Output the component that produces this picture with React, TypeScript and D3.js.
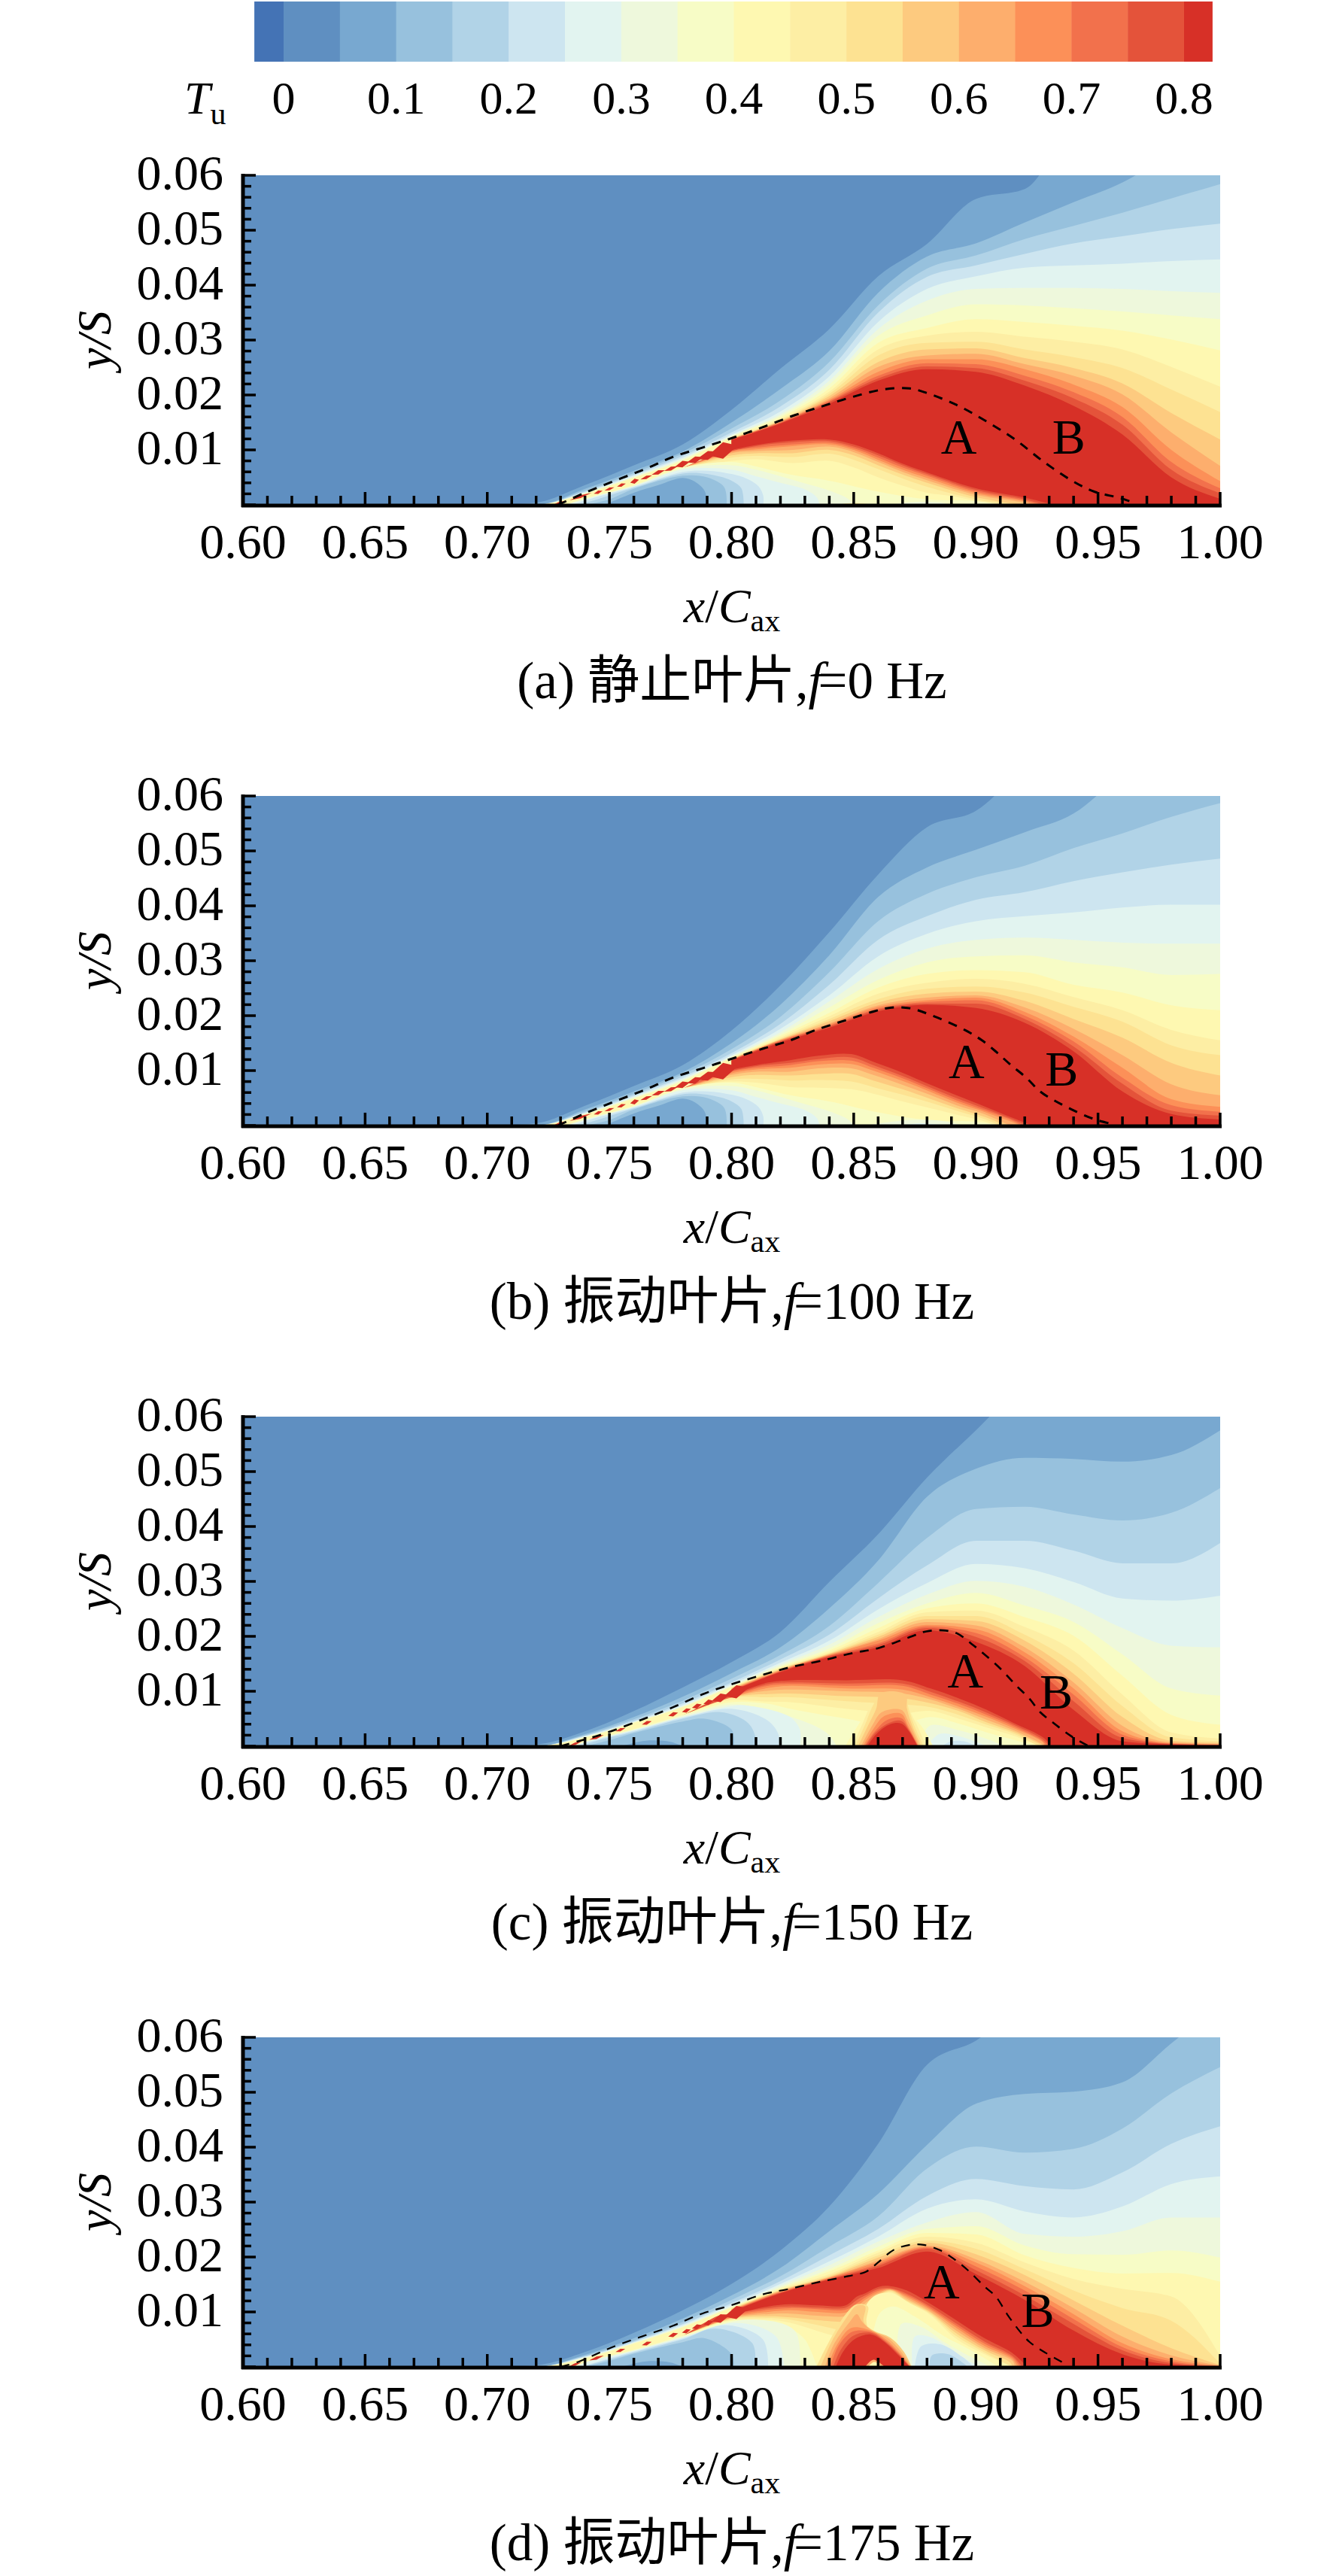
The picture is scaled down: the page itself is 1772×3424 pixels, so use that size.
// @ts-nocheck
import { area, curveCatmullRom, curveMonotoneX, format, line, range, scaleLinear } from "d3";

const WIDTH = 1772;
const HEIGHT = 3424;
const PANEL_STEP = 825;
const SERIF = "'Liberation Serif', 'Noto Sans CJK SC', serif";

// contour fill colours, one per band of 0.05
const bandColors = [
  "#4473b5", "#5f8fc1", "#78a8d0", "#97c1dd", "#b1d3e7", "#cde5f0", "#e2f4f0", "#eef8dc", "#f7fcc6",
  "#fef8b1", "#fdeea4", "#fde292", "#fdca7f", "#fdae6d", "#fc9058", "#f2714c", "#e4533a", "#d73027",
];
const barEdges = [-0.026, 0, 0.05, 0.1, 0.15, 0.2, 0.25, 0.3, 0.35, 0.4, 0.45, 0.5, 0.55, 0.6, 0.65, 0.7, 0.75, 0.8, 0.825];
const barTicks = [0, 0.1, 0.2, 0.3, 0.4, 0.5, 0.6, 0.7, 0.8];
const xLabels = [0.6, 0.65, 0.7, 0.75, 0.8, 0.85, 0.9, 0.95, 1];
const yLabels = [0.01, 0.02, 0.03, 0.04, 0.05, 0.06];

// x positions where the upper contour heights were read
const stations = [0.72, 0.74, 0.76, 0.78, 0.8, 0.82, 0.84, 0.86, 0.88, 0.9, 0.92, 0.94, 0.96, 0.98, 1];
const _ = null;

// heights are y/S x 1000; rows go from band 2 up to band 17
const levelsA = [
  [0.4, 3.6, 7.2, 11, 17.3, 24.8, 32, 41.6, 47.5, 55.7, 57.5, 68, 70, 70, 70],
  [0, 2.9, 6.2, 9.7, 15, 21.1, 28, 38.6, 45.2, 47.6, 51.4, 55.1, 58.7, 64, 70],
  [0, 2.6, 5.8, 9.3, 13.9, 19, 26, 36.3, 43, 45.4, 48.4, 50.8, 53.2, 55.8, 58.4],
  [0, 2.4, 5.5, 8.9, 13.2, 17.9, 24.6, 35, 41.5, 43.6, 45.7, 47.6, 48.9, 50.2, 51.2],
  [0, 2.3, 5.3, 8.6, 12.8, 17, 23.4, 33.3, 39.3, 41.6, 43.2, 43.6, 43.9, 44.4, 44.7],
  [0, 2.2, 5.15, 8.4, 12.6, 16.5, 22.6, 32, 37.2, 39.3, 39.5, 39.5, 39.3, 38.9, 38.6],
  [0, 2.1, 5, 8.2, 12.45, 16.2, 21.9, 30.8, 34.5, 36.5, 36.3, 35.8, 35.2, 34.5, 33.8],
  [0, 2, 4.9, 8, 12.3, 15.9, 21.2, 29.5, 32.2, 33.8, 33.3, 32.6, 31.7, 30.1, 28.1],
  [_, _, _, _, 12.2, 15.6, 20.6, 28.3, 30.8, 31.5, 30.6, 29.7, 28.3, 25.1, 21.5],
  [_, _, _, _, 12.15, 15.4, 20.2, 27.2, 29.5, 29.7, 28.3, 26.9, 24.9, 21, 16.9],
  [_, _, _, _, 12.1, 15.3, 19.8, 26, 28.3, 28.5, 26.7, 24.9, 22.1, 16.7, 11.9],
  [_, _, _, _, 12.05, 15.2, 19.4, 25.1, 27.2, 27.5, 25.6, 23.5, 20.1, 13.2, 7.1],
  [_, _, _, _, 12, 15.1, 19.1, 24.2, 26.5, 26.5, 24.7, 21.9, 17.8, 10, 4.3],
  [_, _, _, _, 11.95, 15, 18.9, 23.5, 25.8, 25.6, 23.5, 20.5, 16, 7.8, 3],
  [_, _, _, _, 11.9, 14.9, 18.7, 23, 25.2, 24.9, 22.6, 19.4, 14.6, 6.4, 2.1],
  [_, _, _, _, 11.8, 14.8, 18.4, 22.6, 24.7, 24.2, 21.7, 18, 12.8, 5, 1.1],
];
const levelsB = [
  [0.4, 3.6, 7.2, 11, 17.3, 25.5, 35.2, 45.7, 54.3, 57.3, 65, 70, 70, 70, 70],
  [0, 2.9, 6.2, 9.7, 15, 22, 31, 41.6, 47, 50.2, 53.4, 56.8, 64, 70, 70],
  [0, 2.6, 5.8, 9.3, 13.9, 19.8, 27.9, 37.2, 42.2, 45.2, 47.3, 50.5, 53.2, 56.2, 58.7],
  [0, 2.4, 5.5, 8.9, 13.2, 18.5, 25.6, 33.8, 38.1, 41.1, 42.5, 44.5, 46.1, 47.5, 48.6],
  [0, 2.3, 5.3, 8.6, 12.8, 17.6, 23.7, 30.8, 34.9, 37.2, 38.1, 38.8, 39.7, 40.2, 40.2],
  [0, 2.2, 5.15, 8.4, 12.6, 17, 22.6, 28.5, 32.2, 33.8, 34.2, 33.8, 33.3, 33.1, 33.1],
  [0, 2.1, 5, 8.2, 12.45, 16.6, 21.5, 26.5, 29.7, 30.8, 31, 29.7, 28.8, 27.4, 27.6],
  [0, 2, 4.9, 8, 12.3, 16.3, 20.5, 25.1, 27.6, 28.3, 27.9, 25.6, 24.2, 21.9, 21],
  [_, _, _, _, 12.2, 16, 19.9, 24, 26, 26.7, 25.8, 23.4, 21, 17.4, 15.5],
  [_, _, _, _, 12.15, 15.8, 19.4, 23, 24.9, 25.3, 24.2, 21.6, 18.9, 14.6, 12.8],
  [_, _, _, _, 12.1, 15.7, 19, 22.4, 24, 24.4, 22.7, 19.4, 16, 11.4, 9.1],
  [_, _, _, _, 12.05, 15.6, 18.6, 21.9, 23.3, 23.7, 21.5, 17.6, 12.8, 7.5, 5.5],
  [_, _, _, _, 12, 15.5, 18.4, 21.6, 22.8, 23.3, 20.7, 16.2, 10.5, 4.8, 3.4],
  [_, _, _, _, 11.95, 15.4, 18.2, 21.3, 22.5, 22.8, 20, 15.3, 8.7, 3.7, 2.5],
  [_, _, _, _, 11.9, 15.3, 18, 21.1, 22.2, 22.2, 19.4, 14.4, 7.6, 2.7, 1.8],
  [_, _, _, _, 11.8, 15.1, 17.8, 20.8, 22, 21.4, 18.7, 13.5, 6.2, 2.1, 1.1],
];
const levelsC = [
  [0.3, 2.7, 6.4, 10.7, 15.3, 20.8, 29.9, 38.6, 48.9, 57.5, 66, 70, 70, 70, 70],
  [0, 2.2, 5.3, 9, 13.3, 18, 25.1, 33.8, 45.4, 50.5, 52.5, 52.3, 51.8, 53, 57.5],
  [0, 2, 4.9, 8.3, 12.3, 16.6, 21.9, 29.7, 37.9, 43.2, 43.6, 42.2, 41.1, 42.5, 47],
  [0, 1.9, 4.6, 7.8, 11.6, 15.8, 20.3, 26.9, 32.9, 37.4, 37.4, 35.6, 33.3, 33.3, 37],
  [0, 1.8, 4.5, 7.5, 11.3, 15.2, 19.2, 24.9, 29.7, 33.2, 32.4, 29.9, 26.9, 26.5, 27.4],
  [0, 1.7, 4.4, 7.3, 11.1, 14.9, 18.5, 23.5, 27.6, 30.1, 29, 25.8, 21.5, 18.3, 18],
  [0, 1.6, 4.3, 7.2, 10.9, 14.6, 17.8, 22.4, 26, 27.9, 25.6, 22.6, 16.7, 10.5, 9.2],
  [0, 1.5, 4.2, 7.1, 10.8, 14.4, 17.4, 21.5, 25.1, 26, 23.5, 20.1, 12.8, 5.7, 3.9],
  [_, _, _, _, 10.7, 14.2, 17.1, 20.8, 24.4, 24.7, 21.7, 17.4, 9.4, 2.5, 1.4],
  [_, _, _, _, 10.6, 14.1, 16.9, 20.3, 23.7, 23.7, 20.3, 15.1, 7.3, 1.6, 0.9],
  [_, _, _, _, 10.5, 14, 16.8, 19.9, 23.1, 22.8, 19.2, 13.2, 5.3, 1, 0.6],
  [_, _, _, _, 10.4, 13.9, 16.7, 19.5, 22.6, 22, 18, 11.6, 3.7, 0.7, 0.45],
  [_, _, _, _, 10.3, 13.8, 16.6, 19.2, 22.1, 21.3, 17.1, 10.5, 2.7, 0.55, 0.35],
  [_, _, _, _, 10.2, 13.7, 16.5, 18.7, 21.8, 20.6, 16.2, 9.4, 2.1, 0.45, 0.25],
  [_, _, _, _, 10.1, 13.6, 16.4, 18.4, 21.5, 19.9, 15.5, 8.2, 1.5, 0.4, 0.2],
  [_, _, _, _, 10, 13.5, 16.2, 18, 21.1, 19, 14.6, 6.6, 0.9, 0.3, 0.1],
];
const levelsD = [
  [0.3, 2.7, 6.2, 10.3, 15.1, 21.2, 29.2, 40.6, 55, 59.4, 66, 70, 70, 70, 70],
  [0, 2.2, 5.2, 8.8, 13, 18, 24.7, 31.5, 40.4, 47.9, 49.7, 50.1, 51.8, 58.9, 66],
  [0, 2, 4.8, 8.2, 12.2, 16.5, 21.9, 27.4, 36.1, 40.1, 39, 39.7, 43.4, 49.8, 54.6],
  [0, 1.9, 4.6, 7.8, 11.6, 15.6, 20.3, 25.1, 31.1, 34.2, 32.9, 32.3, 35.4, 40.6, 43.8],
  [0, 1.8, 4.5, 7.6, 11.3, 15.1, 19.2, 23.7, 28.8, 30.5, 28.3, 27.2, 29.2, 33.3, 34.7],
  [0, 1.7, 4.4, 7.4, 11.1, 14.8, 18.5, 22.8, 26.3, 28.2, 24.2, 23.7, 24.7, 27.2, 27.2],
  [0, 1.6, 4.3, 7.3, 10.9, 14.5, 17.8, 21.9, 25.1, 25.6, 22.1, 20.5, 20.4, 21.2, 19.9],
  [0, 1.5, 4.2, 7.2, 10.8, 14.3, 17.4, 21.2, 24.4, 24.1, 20.3, 18, 17, 17.1, 15.5],
  [_, _, _, _, 10.7, 14.1, 16.9, 20.8, 23.7, 22.6, 19, 16, 14.2, 12.8, 2],
  [_, _, _, _, 10.6, 14, 16.6, 20.3, 23, 21.5, 17.8, 13.9, 10.7, 8.4, 0.6],
  [_, _, _, _, 10.5, 13.9, 16.4, 19.9, 22.6, 20.5, 16.7, 12.1, 7.5, 3.4, 0.35],
  [_, _, _, _, 10.4, 13.8, 16.3, 19.4, 22.1, 19.6, 15.5, 10.7, 5.5, 2.1, 0.25],
  [_, _, _, _, 10.3, 13.7, 16.2, 19.1, 21.9, 19, 14.7, 9.6, 4.3, 1.4, 0.2],
  [_, _, _, _, 10.2, 13.6, 16.1, 18.7, 21.7, 18.3, 13.9, 8.7, 3.6, 1, 0.15],
  [_, _, _, _, 10.1, 13.5, 16, 18.4, 21.5, 17.6, 13, 7.8, 3, 0.7, 0.1],
  [_, _, _, _, 10, 13.4, 15.9, 18, 21, 16.9, 12.2, 6.6, 2.3, 0.4, 0.05],
];

// regions under the wake ridge: [band, [[x, height], ...]], painted in order
const pocketLeftAB = [
  [8, [[0.732, 0], [0.74, 1.2], [0.76, 3.6], [0.78, 6.8], [0.8, 7.8], [0.81, 7], [0.824, 5.5], [0.84, 4.4], [0.86, 2.4], [0.88, 1], [0.9, 0.7], [0.91, 0]]],
  [7, [[0.732, 0], [0.74, 1.1], [0.76, 3.5], [0.78, 6.6], [0.8, 7.2], [0.81, 6.4], [0.82, 5.2], [0.83, 3.9], [0.84, 2.6], [0.848, 1], [0.85, 0]]],
  [6, [[0.733, 0], [0.74, 1], [0.76, 3.4], [0.78, 6.4], [0.8, 6.4], [0.81, 5.2], [0.82, 4], [0.83, 2.8], [0.835, 1.3], [0.836, 0]]],
  [5, [[0.735, 0], [0.74, 0.8], [0.76, 3.3], [0.78, 6], [0.79, 6.2], [0.8, 5.6], [0.806, 4.8], [0.811, 3.4], [0.813, 1.6], [0.813, 0]]],
  [4, [[0.737, 0], [0.745, 1], [0.76, 3.1], [0.78, 5.7], [0.79, 5.6], [0.8, 4.4], [0.804, 3], [0.805, 0]]],
  [3, [[0.74, 0], [0.75, 1], [0.76, 2.9], [0.78, 5.3], [0.79, 5], [0.797, 3.2], [0.798, 0]]],
  [2, [[0.748, 0], [0.76, 2.2], [0.77, 3.6], [0.78, 4.9], [0.785, 4.2], [0.789, 2.5], [0.79, 0]]],
];
const cavityA = [
  [16, [[0.78, 6.7], [0.795, 9.4], [0.81, 10.9], [0.825, 11.7], [0.84, 11.9], [0.85, 11], [0.86, 9.4], [0.87, 7.5], [0.88, 5.9], [0.9, 3], [0.92, 1.3], [0.932, 0]]],
  [15, [[0.78, 6.7], [0.795, 9.2], [0.81, 10.7], [0.825, 11.4], [0.84, 11.6], [0.85, 10.6], [0.86, 9], [0.87, 7.2], [0.88, 5.6], [0.9, 2.7], [0.92, 1], [0.928, 0]]],
  [14, [[0.78, 6.7], [0.8, 9.8], [0.81, 10.4], [0.825, 11], [0.84, 11.3], [0.85, 10.3], [0.86, 8.6], [0.87, 6.8], [0.88, 5.3], [0.9, 2.4], [0.92, 0.8], [0.926, 0]]],
  [13, [[0.78, 6.7], [0.8, 9.6], [0.81, 10.1], [0.825, 10.7], [0.84, 11], [0.85, 10], [0.86, 8.2], [0.87, 6.4], [0.88, 4.9], [0.9, 2.1], [0.92, 0.6], [0.923, 0]]],
  [12, [[0.78, 6.7], [0.8, 9.4], [0.81, 9.8], [0.825, 10], [0.84, 10.6], [0.85, 9.6], [0.86, 7.8], [0.87, 6], [0.88, 4.5], [0.9, 1.8], [0.92, 0.3], [0.921, 0]]],
  [11, [[0.78, 6.7], [0.8, 9], [0.81, 9.4], [0.825, 9.4], [0.84, 10], [0.85, 9], [0.86, 7.2], [0.87, 5.5], [0.88, 4], [0.9, 1.4], [0.915, 0.2], [0.918, 0]]],
  [10, [[0.78, 6.7], [0.8, 8.6], [0.81, 8.9], [0.825, 8.7], [0.84, 9.3], [0.85, 8.2], [0.86, 6.5], [0.87, 4.8], [0.88, 3.3], [0.9, 1], [0.91, 0.3], [0.915, 0]]],
  [9, [[0.78, 6.7], [0.79, 7.4], [0.8, 8], [0.81, 8.3], [0.825, 7.6], [0.84, 8], [0.85, 6.8], [0.86, 5], [0.87, 3.5], [0.88, 2.2], [0.89, 1.6], [0.9, 0.7], [0.91, 0]]],
  ...pocketLeftAB,
  [10, [[0.843, 0], [0.85, 0.35], [0.858, 0]]],
  [7, [[0.865, 0], [0.875, 0.5], [0.885, 0.45], [0.89, 0]]],
];
const cavityB = [
  [16, [[0.78, 6.7], [0.795, 9.6], [0.81, 11], [0.824, 11.9], [0.8355, 12.7], [0.849, 13], [0.858, 11.6], [0.87, 9.6], [0.881, 7.5], [0.892, 5.5], [0.904, 3.4], [0.915, 1.4], [0.923, 0]]],
  [15, [[0.78, 6.7], [0.795, 9.4], [0.81, 10.8], [0.824, 11.4], [0.8355, 12.1], [0.849, 12.4], [0.858, 11], [0.87, 9], [0.881, 7], [0.892, 5], [0.904, 3], [0.915, 1.1], [0.921, 0]]],
  [14, [[0.78, 6.7], [0.8, 9.8], [0.81, 10.5], [0.824, 11], [0.8355, 11.7], [0.849, 11.8], [0.858, 10.5], [0.87, 8.6], [0.881, 6.6], [0.892, 4.6], [0.904, 2.7], [0.915, 0.9], [0.919, 0]]],
  [13, [[0.78, 6.7], [0.8, 9.5], [0.81, 10.2], [0.824, 10.5], [0.8355, 11.1], [0.849, 11.2], [0.858, 10], [0.87, 8.1], [0.881, 6.2], [0.892, 4.2], [0.904, 2.4], [0.915, 0.6], [0.918, 0]]],
  [12, [[0.78, 6.7], [0.8, 9.2], [0.81, 9.8], [0.824, 9.8], [0.8355, 10.4], [0.849, 10.4], [0.858, 9.2], [0.87, 7.4], [0.881, 5.6], [0.892, 3.7], [0.904, 2], [0.914, 0]]],
  [11, [[0.78, 6.7], [0.8, 8.8], [0.81, 9.2], [0.824, 9.1], [0.8355, 9.4], [0.849, 9.4], [0.858, 8.2], [0.87, 6.6], [0.881, 4.9], [0.892, 3.2], [0.904, 1.5], [0.912, 0]]],
  [10, [[0.78, 6.7], [0.8, 8.4], [0.81, 8.5], [0.824, 8.2], [0.8355, 8.3], [0.849, 8], [0.858, 7], [0.87, 5.6], [0.881, 4.2], [0.892, 2.7], [0.904, 1.1], [0.91, 0]]],
  [9, [[0.78, 6.7], [0.79, 7.6], [0.8, 8], [0.81, 7.8], [0.824, 7], [0.8355, 6.9], [0.849, 6.6], [0.858, 5.8], [0.87, 4.4], [0.881, 3.2], [0.892, 2], [0.904, 0.7], [0.908, 0]]],
  ...pocketLeftAB,
  [7, [[0.855, 0], [0.87, 0.9], [0.885, 0.9], [0.895, 0]]],
  [6, [[0.868, 0], [0.878, 0.4], [0.888, 0]]],
];
const cavityC = [
  [16, [[0.78, 5.6], [0.795, 8.8], [0.804, 10], [0.815, 11.6], [0.824, 12], [0.847, 12], [0.87, 12], [0.8815, 10.5], [0.893, 8.7], [0.9045, 6.6], [0.916, 4.1], [0.9275, 1.6], [0.931, 0]]],
  [15, [[0.78, 5.6], [0.804, 9.8], [0.815, 11.3], [0.824, 11.6], [0.847, 11.4], [0.87, 11.4], [0.8815, 9.9], [0.893, 8.1], [0.9045, 6.1], [0.916, 3.8], [0.9275, 1.2], [0.93, 0]]],
  [14, [[0.78, 5.6], [0.804, 9.6], [0.815, 11], [0.824, 11.3], [0.847, 11], [0.87, 11], [0.8815, 9.4], [0.893, 7.7], [0.9045, 5.7], [0.916, 3.5], [0.9275, 0.9], [0.929, 0]]],
  [13, [[0.78, 5.6], [0.804, 9.4], [0.815, 10.6], [0.824, 11], [0.847, 10.5], [0.87, 10.3], [0.8815, 8.9], [0.893, 7.2], [0.9045, 5.3], [0.916, 3.2], [0.9275, 0.7], [0.928, 0]]],
  [12, [[0.78, 5.6], [0.803, 9.2], [0.815, 10.1], [0.824, 10.3], [0.847, 10], [0.87, 9.6], [0.8815, 8.5], [0.893, 6.8], [0.9045, 4.8], [0.916, 2.8], [0.9265, 0.5], [0.928, 0]]],
  [11, [[0.78, 5.6], [0.802, 9], [0.815, 9.5], [0.824, 9.6], [0.847, 9.1], [0.87, 8.7], [0.8815, 7.8], [0.893, 6.4], [0.9045, 4.3], [0.916, 2.5], [0.926, 0.4], [0.928, 0]]],
  [10, [[0.78, 5.6], [0.8, 8.8], [0.815, 8.9], [0.824, 8.9], [0.847, 8.2], [0.87, 7.6], [0.8815, 7.1], [0.893, 5.7], [0.9045, 3.9], [0.916, 2.2], [0.925, 0.2], [0.927, 0]]],
  [9, [[0.78, 5.6], [0.795, 8], [0.8, 8.4], [0.815, 8.1], [0.824, 8], [0.847, 6.8], [0.87, 6], [0.8815, 6.4], [0.893, 5], [0.9045, 3.4], [0.916, 1.8], [0.926, 0]]],
  [8, [[0.735, 0], [0.74, 0.9], [0.76, 3.1], [0.78, 5.7], [0.8, 8], [0.815, 7.7], [0.824, 6.8], [0.84, 5.5], [0.847, 5], [0.86, 4], [0.87, 4], [0.8815, 5.3], [0.893, 4.1], [0.9045, 2.5], [0.916, 1.1], [0.925, 0]]],
  [7, [[0.735, 0], [0.74, 0.8], [0.76, 3], [0.78, 5.5], [0.8, 7.6], [0.81, 7.1], [0.82, 6], [0.824, 5.4], [0.835, 3.5], [0.84, 2], [0.843, 0]]],
  [7, [[0.877, 0], [0.881, 3.7], [0.893, 2.9], [0.9045, 1.3], [0.912, 0]]],
  [6, [[0.736, 0], [0.74, 0.7], [0.76, 2.9], [0.78, 5.3], [0.8, 7.3], [0.8063, 7.4], [0.8236, 5.4], [0.828, 3], [0.828, 0]]],
  [6, [[0.88, 0], [0.885, 2.2], [0.893, 1.8], [0.9, 0.8], [0.905, 0]]],
  [5, [[0.737, 0], [0.74, 0.6], [0.76, 2.8], [0.78, 5.2], [0.8, 6.8], [0.815, 4.6], [0.8193, 2], [0.8193, 0]]],
  [5, [[0.886, 0], [0.89, 0.9], [0.896, 0.8], [0.9, 0]]],
  [4, [[0.738, 0], [0.745, 1], [0.76, 2.6], [0.78, 5], [0.7955, 6.2], [0.8063, 4.4], [0.8096, 2], [0.8096, 0]]],
  [3, [[0.74, 0], [0.75, 1.1], [0.76, 2.4], [0.78, 4.5], [0.789, 5], [0.8, 3], [0.801, 0]]],
  [2, [[0.755, 0], [0.765, 1], [0.775, 0.8], [0.78, 0]]],
  // plume standing on the blade surface
  [9, [[0.8465, 0], [0.8515, 3.6], [0.856, 6.4], [0.8604, 6.7], [0.8718, 6.4], [0.875, 5], [0.8785, 3.2], [0.8825, 0]]],
  [10, [[0.8495, 0], [0.8535, 4], [0.857, 7.2], [0.8604, 7.9], [0.8718, 7.6], [0.8723, 7], [0.8757, 4], [0.8797, 0]]],
  [11, [[0.8507, 0], [0.8547, 4], [0.8581, 7.6], [0.8604, 8.9], [0.8718, 8.6], [0.8722, 7.4], [0.8746, 4], [0.8786, 0]]],
  [12, [[0.8518, 0], [0.8558, 3.7], [0.8592, 6.8], [0.8609, 9.6], [0.8712, 9.4], [0.8718, 6.8], [0.874, 3.7], [0.8777, 0]]],
  [13, [[0.853, 0], [0.8575, 3.7], [0.8615, 6.2], [0.8695, 6.6], [0.8723, 4.6], [0.8769, 0]]],
  [14, [[0.8538, 0], [0.8581, 3.2], [0.8626, 5.5], [0.8695, 5.9], [0.8723, 3.7], [0.8766, 0]]],
  [15, [[0.8544, 0], [0.8587, 2.7], [0.8638, 4.8], [0.8695, 5.1], [0.8727, 3], [0.8763, 0]]],
  [16, [[0.8549, 0], [0.859, 2.5], [0.8644, 4.2], [0.8695, 4.6], [0.8729, 2.7], [0.8763, 0]]],
  [17, [[0.8556, 0], [0.8595, 2.3], [0.865, 4], [0.8695, 4.1], [0.8729, 2.5], [0.876, 0]]],
];
const cavityD = [
  [16, [[0.78, 5.6], [0.795, 9.4], [0.8, 9.6], [0.815, 11], [0.824, 11.4], [0.8353, 11.2], [0.8467, 11.2], [0.8513, 12.8], [0.8547, 13.4], [0.8604, 14.6], [0.865, 14.7], [0.8718, 13.9], [0.8809, 11.6], [0.8923, 8.4], [0.9036, 5.2], [0.915, 2.5], [0.921, 0]]],
  [15, [[0.78, 5.6], [0.8, 9.4], [0.815, 10.7], [0.824, 11], [0.8353, 10.8], [0.8467, 10.8], [0.8513, 12.2], [0.8547, 13], [0.8604, 14.2], [0.865, 14.3], [0.8718, 13.3], [0.8809, 11.1], [0.8923, 7.8], [0.9036, 4.6], [0.915, 2], [0.919, 0]]],
  [14, [[0.78, 5.6], [0.8, 9.2], [0.815, 10.4], [0.824, 10.7], [0.8353, 10.5], [0.8467, 10.4], [0.8513, 11.6], [0.8547, 12.6], [0.8604, 13.9], [0.865, 14.2], [0.8718, 13], [0.8809, 10.8], [0.8923, 7.4], [0.9036, 4.2], [0.915, 1.7], [0.918, 0]]],
  [13, [[0.78, 5.6], [0.8, 9], [0.815, 10], [0.824, 10.3], [0.8353, 10], [0.8467, 9.9], [0.8513, 11], [0.8547, 12.2], [0.8604, 13.6], [0.865, 14.1], [0.8718, 12.7], [0.8809, 10.5], [0.8923, 7], [0.9036, 3.8], [0.915, 1.4], [0.917, 0]]],
  [12, [[0.78, 5.6], [0.8, 8.9], [0.815, 9.6], [0.824, 9.7], [0.8353, 9.3], [0.8467, 9.2], [0.8513, 10], [0.8547, 11.6], [0.8604, 13.3], [0.865, 14], [0.8718, 12.4], [0.8809, 10.2], [0.8923, 6.5], [0.9036, 3.4], [0.915, 1.1], [0.916, 0]]],
  [11, [[0.78, 5.6], [0.8, 8.8], [0.815, 9.2], [0.824, 9], [0.8353, 8.5], [0.8467, 8.2], [0.8513, 8.5], [0.8547, 10.8], [0.8604, 13], [0.865, 13.9], [0.8718, 12.1], [0.8809, 10], [0.8923, 6], [0.9036, 3], [0.914, 0.8], [0.915, 0]]],
  [10, [[0.78, 5.6], [0.8, 8.7], [0.815, 8.9], [0.824, 8.6], [0.8353, 7.6], [0.8467, 6.4], [0.8513, 5.8], [0.8547, 9.8], [0.8604, 12.6], [0.865, 13.7], [0.8718, 11.8], [0.8809, 9.8], [0.8923, 5.5], [0.9036, 2.6], [0.913, 0.4], [0.914, 0]]],
  [9, [[0.78, 5.6], [0.795, 8], [0.8, 8.5], [0.815, 8.6], [0.824, 8], [0.8353, 6.5], [0.845, 5.2], [0.853, 4], [0.8535, 9.6], [0.8581, 12.8], [0.865, 13.5], [0.8729, 11.6], [0.8809, 9.6], [0.8923, 5], [0.9036, 2.3], [0.915, 0]]],
  [8, [[0.735, 0], [0.74, 0.9], [0.76, 3.1], [0.78, 5.7], [0.8, 8.4], [0.815, 8.3], [0.824, 7], [0.83, 5], [0.835, 0]]],
  [8, [[0.856, 0], [0.8604, 9.6], [0.8661, 11], [0.8752, 9.1], [0.8866, 5.7], [0.898, 3], [0.9093, 0]]],
  [7, [[0.736, 0], [0.74, 0.8], [0.76, 3], [0.78, 5.5], [0.8074, 8.6], [0.8258, 6.6], [0.828, 0]]],
  [7, [[0.868, 0], [0.8695, 7.8], [0.8775, 7.3], [0.8877, 4.3], [0.898, 1.8], [0.9059, 0]]],
  [6, [[0.737, 0], [0.74, 0.7], [0.76, 2.9], [0.78, 5.3], [0.802, 8], [0.8182, 5.5], [0.8215, 0]]],
  [6, [[0.874, 0], [0.875, 5.5], [0.882, 5.3], [0.8911, 2.7], [0.9014, 0]]],
  [5, [[0.738, 0], [0.76, 2.8], [0.78, 5.2], [0.7977, 7.6], [0.8128, 5], [0.815, 0]]],
  [5, [[0.875, 0], [0.8775, 3.7], [0.8854, 4.1], [0.8945, 1.8], [0.8991, 0]]],
  [4, [[0.739, 0], [0.76, 2.6], [0.78, 5], [0.7934, 7], [0.8085, 4.3], [0.8096, 0]]],
  [4, [[0.8809, 0], [0.882, 2.1], [0.8888, 2.3], [0.8968, 0]]],
  [3, [[0.74, 0], [0.75, 1.1], [0.76, 2.4], [0.78, 4.5], [0.789, 5.2], [0.8, 2.3], [0.801, 0]]],
  [2, [[0.755, 0], [0.765, 1], [0.775, 0.8], [0.78, 0]]],
  // plume and vortex on the blade surface
  [11, [[0.8347, 0], [0.8399, 4.6], [0.8467, 9.6], [0.8513, 11.4], [0.8558, 11], [0.8552, 8.2], [0.8581, 5], [0.8661, 3.2], [0.874, 0]]],
  [12, [[0.8364, 0], [0.841, 4.6], [0.8473, 9.1], [0.8513, 11.2], [0.8547, 11], [0.8541, 8.2], [0.8581, 6.6], [0.865, 5.3], [0.8706, 2.7], [0.8737, 0]]],
  [13, [[0.8382, 0], [0.8421, 4.3], [0.8484, 8.2], [0.8513, 9.6], [0.8535, 8.2], [0.8581, 6.4], [0.8638, 5.3], [0.8695, 2.7], [0.8735, 0]]],
  [14, [[0.8393, 0], [0.8433, 4.1], [0.849, 7.1], [0.857, 6.6], [0.8632, 5], [0.8689, 2.5], [0.8732, 0]]],
  [15, [[0.8404, 0], [0.8439, 3.9], [0.8495, 6.4], [0.857, 6.4], [0.8629, 4.8], [0.8686, 2.4], [0.8731, 0]]],
  [16, [[0.8416, 0], [0.8448, 3.2], [0.8499, 5.7], [0.857, 6.2], [0.8626, 4.7], [0.8684, 2.3], [0.873, 0]]],
  [17, [[0.8427, 0], [0.8456, 2.7], [0.8503, 5], [0.857, 5.9], [0.8624, 4.6], [0.8681, 2.2], [0.8729, 0]]],
  [13, [[0.8547, 0], [0.8581, 1.3], [0.8626, 0]]],
  [9, [[0.8558, 0], [0.8584, 0.9], [0.8615, 0]]],
];

// red spots along the thin transition streak: x, height, half length, half thickness
const spotsAB = [
  [0.7294, 0.35, 0.0025, 0.2], [0.7382, 1.5, 0.0045, 0.25], [0.7454, 2.3, 0.0018, 0.3], [0.75, 2.9, 0.002, 0.25],
  [0.7549, 3.6, 0.0018, 0.3], [0.7603, 4.3, 0.0018, 0.45], [0.7651, 5, 0.0024, 0.3], [0.77, 5.9, 0.0027, 0.4],
  [0.7752, 6.6, 0.0028, 0.35], [0.7799, 7.4, 0.003, 0.6], [0.7851, 8.2, 0.0034, 0.6], [0.7903, 9, 0.0045, 0.8], [0.7965, 9.9, 0.006, 1.5],
];
const spotsCD = [
  [0.736, 0.45, 0.0025, 0.25], [0.7447, 1.6, 0.003, 0.3], [0.7545, 3, 0.002, 0.3], [0.7653, 4.25, 0.002, 0.35],
  [0.7761, 5.8, 0.002, 0.4], [0.7815, 6.5, 0.0018, 0.4], [0.7858, 7.3, 0.002, 0.45], [0.7905, 8, 0.002, 0.5], [0.7955, 8.8, 0.0035, 0.8], [0.802, 9.9, 0.005, 1.2],
];

// dashed sonic line, x and height
const dashA = [[0.729, 0], [0.7392, 2.05], [0.752, 4.34], [0.7647, 6.53], [0.7765, 8.8], [0.7887, 10.5], [0.8011, 12.3], [0.8129, 14.16], [0.8257, 16.3], [0.8375, 18], [0.8492, 19.6], [0.862, 21], [0.8728, 21.2], [0.8797, 20.4], [0.8925, 18.1], [0.9043, 15.2], [0.9161, 11.87], [0.9279, 7.8], [0.9397, 4.3], [0.9485, 2.4], [0.9593, 1.2], [0.965, 0.3]];
const dashB = [[0.729, 0], [0.7392, 2.05], [0.752, 4.34], [0.7647, 6.53], [0.7765, 8.8], [0.7887, 10.5], [0.8011, 12.3], [0.8129, 14], [0.824, 15.5], [0.8342, 17.34], [0.8467, 19.16], [0.8581, 20.76], [0.8649, 21.45], [0.8729, 21.35], [0.8831, 19.85], [0.8957, 17.34], [0.9025, 15.5], [0.9082, 13.46], [0.9139, 11.18], [0.9207, 8.67], [0.9264, 6.16], [0.9321, 4.56], [0.939, 2.97], [0.9458, 1.6], [0.9503, 0.9], [0.9555, 0.3]];
const dashC = [[0.73, 0], [0.7372, 0.9], [0.748, 2.3], [0.7631, 4.8], [0.7761, 7.1], [0.789, 9.6], [0.8009, 11.4], [0.8128, 13], [0.824, 14.37], [0.8364, 15.51], [0.8489, 16.88], [0.8603, 17.89], [0.8729, 19.85], [0.8797, 20.9], [0.8866, 21.08], [0.8923, 20.53], [0.898, 18.71], [0.9037, 16.65], [0.9105, 13.92], [0.9162, 11.18], [0.9219, 8.67], [0.9264, 6.16], [0.9321, 4.11], [0.939, 1.83], [0.9458, 0.1]];
const dashD = [[0.73, 0], [0.7372, 0.9], [0.7501, 3.4], [0.7631, 5.5], [0.7761, 7.5], [0.788, 9.7], [0.7998, 11.2], [0.8128, 13.2], [0.824, 14.24], [0.8364, 15.51], [0.8478, 16.52], [0.8551, 17.34], [0.8598, 18.94], [0.8661, 21.22], [0.8729, 22.22], [0.8786, 22.22], [0.8854, 21.22], [0.8911, 19.62], [0.8968, 17.57], [0.9036, 14.6], [0.9082, 12.78], [0.9128, 9.58], [0.9173, 6.84], [0.9219, 4.56], [0.9287, 2.51], [0.9361, 0.68]];

const marksA = [["A", 0.893, 9.3], ["B", 0.938, 9.3]];
const marksB = [["A", 0.8962, 8.6], ["B", 0.9351, 7.3]];
const marksC = [["A", 0.8957, 10.7], ["B", 0.9329, 6.8]];
const marksD = [["A", 0.886, 12.5], ["B", 0.9253, 7.3]];

const captionLeads = ["(a) 静止叶片,", "(b) 振动叶片,", "(c) 振动叶片,", "(d) 振动叶片,"];
const captionTails = ["=0 Hz", "=100 Hz", "=150 Hz", "=175 Hz"];

const panels = [
  { levels: levelsA, cavity: cavityA, spots: spotsAB, dash: dashA, marks: marksA, dashWidth: 3 },
  { levels: levelsB, cavity: cavityB, spots: spotsAB, dash: dashB, marks: marksB, dashWidth: 3 },
  { levels: levelsC, cavity: cavityC, spots: spotsCD, dash: dashC, marks: marksC, dashWidth: 2.6 },
  { levels: levelsD, cavity: cavityD, spots: spotsCD, dash: dashD, marks: marksD, dashWidth: 2.2 },
];

const x = scaleLinear().domain([0.6, 1]).range([323, 1622]);
const y = scaleLinear().domain([0, 60]).range([671, 233]);
const barX = scaleLinear().domain([0, 0.8]).range([377, 1574]);

const levelArea = area()
  .defined((d) => d[1] !== null)
  .x((d) => x(d[0]))
  .y0(y(0))
  .y1((d) => y(d[1]))
  .curve(curveMonotoneX);
const smooth = line()
  .x((d) => x(d[0]))
  .y((d) => y(d[1]))
  .curve(curveCatmullRom);

const patchPath = (pts) => {
  const last = pts[pts.length - 1];
  return `${smooth(pts)}L${x(last[0])},${y(0)}L${x(pts[0][0])},${y(0)}Z`;
};

const spotPath = ([sx, sy, len, thick]) => {
  const slope = 150;
  return line()
    .x((d) => x(d[0]))
    .y((d) => y(d[1]))([
    [sx - len, sy - len * slope],
    [sx, sy + thick],
    [sx + len, sy + len * slope],
    [sx, sy - thick],
  ]) + "Z";
};

const Panel = ({ panel, index }) => {
  const clipId = `plot-${index}`;
  return (
    <g transform={`translate(0, ${index * PANEL_STEP})`}>
      <clipPath id={clipId}>
        <rect x={x(0.6)} y={y(60)} width={x(1) - x(0.6)} height={y(0) - y(60)} />
      </clipPath>
      <g clipPath={`url(#${clipId})`}>
        <rect x={x(0.6)} y={y(60)} width={x(1) - x(0.6)} height={y(0) - y(60)} fill={bandColors[1]} />
        {panel.levels.map((row, i) => (
          <path
            key={i}
            d={levelArea([[0.705, 0], ...row.map((v, k) => [stations[k], v])].filter((d, k) => k > 0 || row[0] !== null))}
            fill={bandColors[i + 2]}
          />
        ))}
        {panel.cavity.map(([band, pts], i) => (
          <path key={i} d={patchPath(pts)} fill={bandColors[band]} />
        ))}
        {panel.spots.map((s, i) => (
          <path key={i} d={spotPath(s)} fill={bandColors[17]} />
        ))}
        <path
          d={smooth(panel.dash)}
          fill="none"
          stroke="#000"
          strokeWidth={panel.dashWidth}
          strokeDasharray="12 10"
        />
      </g>
      {panel.marks.map(([label, mx, my]) => (
        <text key={label} x={x(mx)} y={y(my)} fontSize={66} textAnchor="middle">
          {label}
        </text>
      ))}
      {/* axes, ticks point into the plot */}
      {range(0, 41).map((k) => {
        const tx = x(0.6 + k * 0.01);
        const major = k % 5 === 0;
        return <line key={k} x1={tx} x2={tx} y1={y(0)} y2={y(0) - (major ? 17 : 12)} stroke="#000" strokeWidth={3.5} />;
      })}
      {range(0, 31).map((k) => {
        const ty = y(k * 2);
        const major = k % 5 === 0;
        return <line key={k} x1={x(0.6)} x2={x(0.6) + (major ? 17 : 11)} y1={ty} y2={ty} stroke="#000" strokeWidth={3.5} />;
      })}
      <line x1={x(0.6) - 2} x2={x(1) + 2} y1={y(0) + 1} y2={y(0) + 1} stroke="#000" strokeWidth={5} />
      <line x1={x(0.6)} x2={x(0.6)} y1={y(60) - 2} y2={y(0) + 3} stroke="#000" strokeWidth={5} />
      {xLabels.map((v) => (
        <text key={v} x={x(v)} y={742} fontSize={66} textAnchor="middle">
          {format(".2f")(v)}
        </text>
      ))}
      {yLabels.map((v) => (
        <text key={v} x={297} y={y(v * 1000) + 19} fontSize={66} textAnchor="end">
          {format(".2f")(v)}
        </text>
      ))}
      <text transform={`translate(147, 452) rotate(-90)`} fontSize={64} textAnchor="middle" fontStyle="italic">
        y/S
      </text>
      <text x={973} y={827} fontSize={64} textAnchor="middle">
        <tspan fontStyle="italic">x</tspan>
        <tspan>/</tspan>
        <tspan fontStyle="italic">C</tspan>
        <tspan fontSize={42} dy={12}>ax</tspan>
      </text>
      <text x={973} y={928} fontSize={69} textAnchor="middle">
        <tspan>{captionLeads[index]}</tspan>
        <tspan fontStyle="italic">f</tspan>
        <tspan dx={-6}>{captionTails[index]}</tspan>
      </text>
    </g>
  );
};

const App = () => (
  <svg
    width={WIDTH}
    height={HEIGHT}
    viewBox={`0 0 ${WIDTH} ${HEIGHT}`}
    style={{ position: "absolute", left: 0, top: 0, fontFamily: SERIF, background: "#fff" }}
  >
    {bandColors.map((c, i) => (
      <rect
        key={c}
        x={barX(barEdges[i])}
        y={2}
        width={barX(barEdges[i + 1]) - barX(barEdges[i]) + 0.5}
        height={80}
        fill={c}
      />
    ))}
    {barTicks.map((v) => (
      <text key={v} x={barX(v)} y={151} fontSize={62} textAnchor="middle">
        {v === 0 ? "0" : format(".1f")(v)}
      </text>
    ))}
    <text x={245} y={151} fontSize={62}>
      <tspan fontStyle="italic">T</tspan>
      <tspan fontSize={42} dy={14}>u</tspan>
    </text>
    {panels.map((panel, i) => (
      <Panel key={i} panel={panel} index={i} />
    ))}
  </svg>
);

export default App;
